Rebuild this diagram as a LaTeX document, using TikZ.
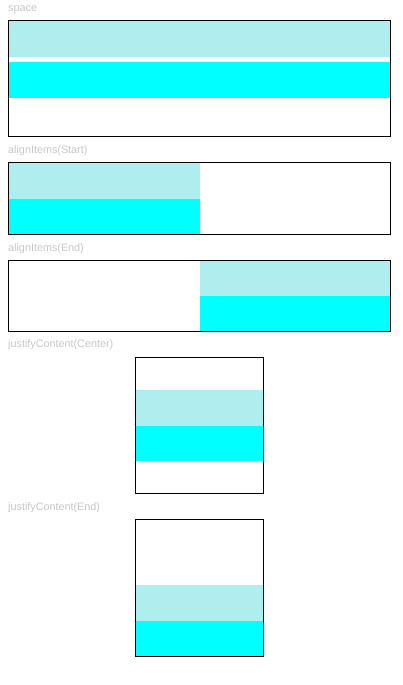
\documentclass[tikz,border=0pt]{standalone}
\usepackage{fontspec}
\setmainfont{Liberation Sans}
\definecolor{pale}{HTML}{AFEEEE}
\definecolor{cyn}{HTML}{00FFFF}
\definecolor{lbl}{RGB}{200,200,200}
\begin{document}
\begin{tikzpicture}[x=1pt,y=-1pt,
  lab/.style={anchor=west,inner sep=0pt,text=lbl,font=\fontsize{10.8}{13}\selectfont},
  frame/.style={draw=black,line width=1pt},
  light/.style={fill=pale},
  strong/.style={fill=cyn}]
\useasboundingbox[fill=white] (0,0) rectangle (403,685);
% space
\node[lab] (l1) at (8,9.5) {space};
\fill[light] (8.5,20.5) rectangle (390.5,57);
\fill[strong] (8.5,62) rectangle (390.5,98);
\draw[frame] (8.5,20.5) rectangle (390.5,136.5);
% alignItems(Start)
\node[lab] (l2) at (8,151) {alignItems(Start)};
\fill[light] (8.5,162.5) rectangle (200,199);
\fill[strong] (8.5,199) rectangle (200,234.5);
\draw[frame] (8.5,162.5) rectangle (390.5,234.5);
% alignItems(End)
\node[lab] (l3) at (8,249) {alignItems(End)};
\fill[light] (200,260.5) rectangle (390.5,296);
\fill[strong] (200,296) rectangle (390.5,331.5);
\draw[frame] (8.5,260.5) rectangle (390.5,331.5);
% justifyContent(Center)
\node[lab] (l4) at (8,345) {justifyContent(Center)};
\fill[light] (135.5,390) rectangle (263.5,426);
\fill[strong] (135.5,426) rectangle (263.5,461);
\draw[frame] (135.5,357.5) rectangle (263.5,493.5);
% justifyContent(End)
\node[lab] (l5) at (8,508) {justifyContent(End)};
\fill[light] (135.5,585) rectangle (263.5,621);
\fill[strong] (135.5,621) rectangle (263.5,656);
\draw[frame] (135.5,519.5) rectangle (263.5,656);
\end{tikzpicture}
\end{document}
